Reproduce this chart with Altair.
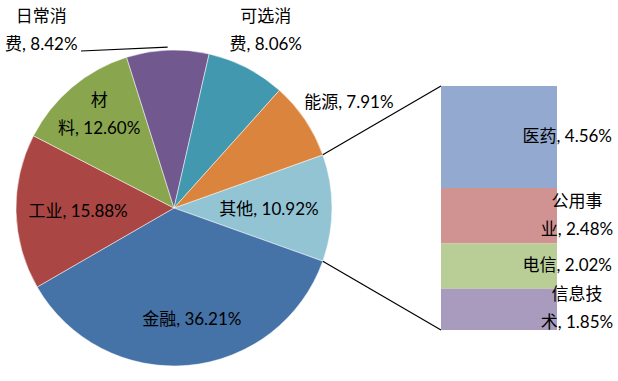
import math
import altair as alt
import pandas as pd

# ---------------- data ----------------
pie_cats = ["其他", "金融", "工业", "材料", "日常消费", "可选消费", "能源"]
pie_vals = [10.92, 36.21, 15.88, 12.60, 8.42, 8.06, 7.91]
pie_labels = [["其他, 10.92%"], ["金融, 36.21%"], ["工业, 15.88%"],
              ["材", "料, 12.60%"], ["日常消", "费, 8.42%"],
              ["可选消", "费, 8.06%"], ["能源, 7.91%"]]

bar_cats = ["医药", "公用事业", "电信", "信息技术"]
bar_vals = [4.56, 2.48, 2.02, 1.85]
bar_labels = [["医药, 4.56%"], ["公用事", "业, 2.48%"], ["电信, 2.02%"], ["信息技", "术, 1.85%"]]

# ---------------- styles / layout ----------------
pie_colors = ["#93C4D4", "#4572A7", "#AA4643", "#89A54E", "#71588F", "#4198AF", "#DB843D"]
bar_colors = ["#93A9CF", "#D19392", "#B9CD96", "#A99BBD"]
W, H = 618, 381
CX, CY, R = 174, 208, 158
BAR_X0, BAR_X1, BAR_TOP, BAR_BOTTOM = 441, 557, 86, 330
FONT = "Lato, Noto Sans CJK SC"
FS = 17
LH = 28
# label placement: (radius in px, angle nudge in degrees) per pie slice
label_layout = {"其他": (95, 1.2), "金融": (113, -3.9), "工业": (96, -1.0),
                "材料": (119, 1.2), "日常消费": (221, -34.6),
                "可选消费": (199, 0.1), "能源": (204, 2.9)}

total = sum(pie_vals)
start = math.pi / 2 - math.pi * pie_vals[0] / total  # centre "其他" on 3 o'clock

pie_df = pd.DataFrame({"cat": pie_cats, "val": pie_vals, "idx": range(len(pie_cats))})

# label positions (polar), from cumulative share
cum = 0.0
lab_rows = []
for c, v, lab in zip(pie_cats, pie_vals, pie_labels):
    mid = start + 2 * math.pi * (cum + v / 2) / total
    cum += v
    r, nd = label_layout[c]
    lab_rows.append({"cat": c, "label": lab, "theta": mid + math.radians(nd), "r": r,
                     "multi": len(lab) > 1})
lab_df = pd.DataFrame(lab_rows)

bar_df = pd.DataFrame({"cat": bar_cats, "val": bar_vals, "idx": range(len(bar_cats)),
                       "label": bar_labels,
                       "multi": [len(l) > 1 for l in bar_labels]})

color_scale = alt.Scale(domain=pie_cats + bar_cats, range=pie_colors + bar_colors)

pie = alt.Chart(pie_df).mark_arc(radius=R, stroke="white", strokeWidth=0.5).encode(
    x=alt.value(CX), y=alt.value(CY),
    theta=alt.Theta("val:Q", stack=True,
                    scale=alt.Scale(range=[start, start + 2 * math.pi])),
    order=alt.Order("idx:Q"),
    color=alt.Color("cat:N", scale=color_scale, legend=None),
)

def pie_text_layer(multi):
    return alt.Chart(lab_df).transform_filter(
        "datum.multi" if multi else "!datum.multi"
    ).mark_text(
        font=FONT, fontSize=FS, lineHeight=LH, align="center", baseline="middle",
        color="#000000", dy=-LH / 2 if multi else 0
    ).encode(
        x=alt.value(CX), y=alt.value(CY),
        theta=alt.Theta("theta:Q", scale=None, stack=None),
        radius=alt.Radius("r:Q", scale=None),
        text="label",
    )

y_scale = alt.Scale(domain=[0, sum(bar_vals)], range=[BAR_BOTTOM, BAR_TOP])

bar_base = alt.Chart(bar_df).transform_stack(
    stack="val", groupby=[], as_=["v0", "v1"],
    sort=[alt.SortField("idx", order="descending")]
).transform_calculate(mid="(datum.v0 + datum.v1) / 2")

bar = bar_base.mark_bar().encode(
    x=alt.value(BAR_X0), x2=alt.value(BAR_X1),
    y=alt.Y("v0:Q", scale=y_scale, axis=None), y2="v1:Q",
    color=alt.Color("cat:N", scale=color_scale, legend=None),
)

bar_text_single = bar_base.transform_filter("!datum.multi").mark_text(
    font=FONT, fontSize=FS, align="right", baseline="middle", color="#000000"
).encode(x=alt.value(612), y=alt.Y("mid:Q", scale=y_scale, axis=None), text="label")

bar_text_multi = bar_base.transform_filter("datum.multi").mark_text(
    font=FONT, fontSize=FS, lineHeight=LH, align="center", baseline="middle",
    color="#000000", dy=-LH / 2
).encode(x=alt.value(577), y=alt.Y("mid:Q", scale=y_scale, axis=None), text="label")

# connector lines from the "其他" slice edges to the bar corners
a0 = start
a1 = start + 2 * math.pi * pie_vals[0] / total
conn_df = pd.DataFrame({
    "x": [CX + R * math.sin(a0), CX + R * math.sin(a1)],
    "y": [CY - R * math.cos(a0), CY - R * math.cos(a1)],
    "x2": [BAR_X0, BAR_X0],
    "y2": [BAR_TOP, BAR_BOTTOM],
})
conn = alt.Chart(conn_df).mark_rule(color="#000000", strokeWidth=1.2).encode(
    x=alt.X("x:Q", scale=None), y=alt.Y("y:Q", scale=None),
    x2="x2:Q", y2="y2:Q",
)

# leader line for 日常消费
i = pie_cats.index("日常消费")
mid_i = start + 2 * math.pi * (sum(pie_vals[:i]) + pie_vals[i] / 2) / total
lead_df = pd.DataFrame({"x": [81], "y": [51],
                        "x2": [CX + R * math.sin(mid_i)], "y2": [CY - R * math.cos(mid_i) - 3]})
lead = alt.Chart(lead_df).mark_rule(color="#000000", strokeWidth=1.2).encode(
    x=alt.X("x:Q", scale=None), y=alt.Y("y:Q", scale=None),
    x2="x2:Q", y2="y2:Q",
)

chart = alt.layer(
    pie, conn, lead, bar, pie_text_layer(False), pie_text_layer(True),
    bar_text_single, bar_text_multi
).resolve_scale(
    theta="independent", radius="independent", y="independent", x="independent"
).properties(
    width=W, height=H, padding=0, autosize=alt.AutoSizeParams(type="none"),
    background="white",
).configure_view(stroke=None)

chart.save("out.html", embed_options={"renderer": "svg", "actions": False})
